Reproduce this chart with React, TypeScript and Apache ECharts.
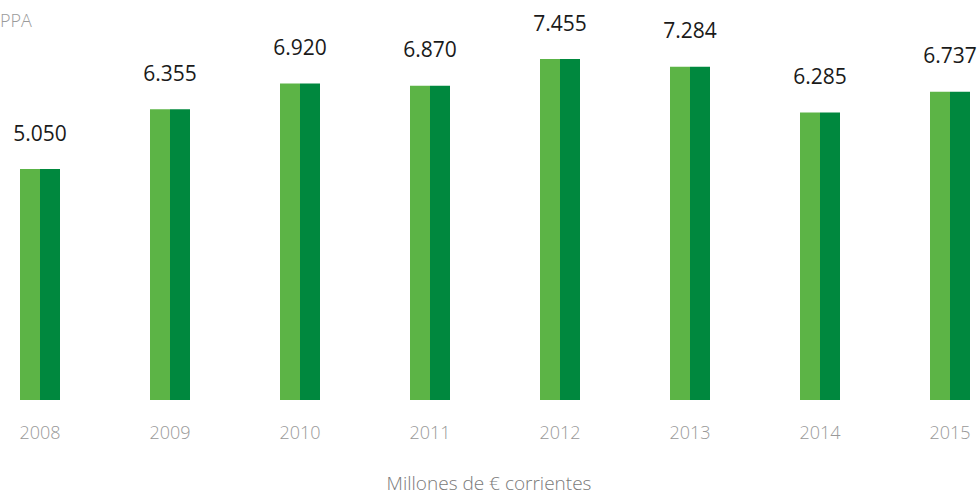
import React, { useEffect, useRef } from "react";
import * as echarts from "echarts";

const years = ["2008", "2009", "2010", "2011", "2012", "2013", "2014", "2015"];
const values = [5.05, 6.355, 6.92, 6.87, 7.455, 7.284, 6.285, 6.737];
const valueLabels = ["5.050", "6.355", "6.920", "6.870", "7.455", "7.284", "6.285", "6.737"];
const unitTitle = "Millones de € corrientes";
const cornerTitle = "PPA";

export default function App() {
  const ref = useRef<HTMLDivElement>(null);
  useEffect(() => {
    if (!ref.current) return;
    const chart = echarts.init(ref.current, undefined, { renderer: "svg" });
    chart.setOption({
      animation: false,
      backgroundColor: "#ffffff",
      grid: { left: 40, right: 28, top: 34.1, bottom: 94, containLabel: false },
      title: [
        {
          text: cornerTitle,
          left: 0,
          top: 11,
          padding: 0,
          textStyle: { fontFamily: "Open Sans", fontWeight: 300, fontSize: 18, lineHeight: 18, color: "#9a9a9a" },
        },
        {
          text: unitTitle,
          left: "center",
          top: 473,
          padding: 0,
          textStyle: { fontFamily: "Open Sans", fontWeight: 300, fontSize: 19, lineHeight: 19, color: "#7a7a7a" },
        },
      ],
      xAxis: {
        type: "category",
        data: years,
        boundaryGap: false,
        axisLine: { show: false },
        axisTick: { show: false },
        axisLabel: {
          margin: 23,
          fontFamily: "Open Sans",
          fontWeight: 300,
          fontSize: 18,
          color: "#999999",
        },
      },
      yAxis: {
        type: "value",
        min: 0,
        max: 8,
        show: false,
        splitLine: { show: false },
      },
      series: [
        {
          type: "bar",
          data: values,
          barWidth: 20,
          barGap: "0%",
          clip: false,
          itemStyle: { color: "#5cb446" },
          label: {
            show: true,
            position: "top",
            distance: 26,
            offset: [10, 0],
            formatter: (p: any) => valueLabels[p.dataIndex],
            fontFamily: "Open Sans",
            fontSize: 21,
            color: "#1a1a1a",
          },
        },
        {
          type: "bar",
          data: values,
          barWidth: 20,
          barGap: "0%",
          clip: false,
          itemStyle: { color: "#00883e" },
        },
      ],
    });
    return () => chart.dispose();
  }, []);
  return <div ref={ref} style={{ width: 978, height: 494, position: "absolute", left: 0, top: 0 }} />;
}
